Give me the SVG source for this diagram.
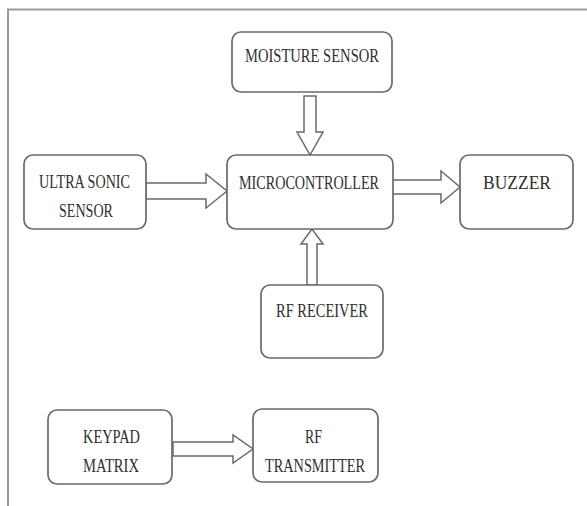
<svg xmlns="http://www.w3.org/2000/svg" width="587" height="506" viewBox="0 0 587 506">
<style>
.box{fill:#fff;stroke:#6a6a6a;stroke-width:1.7}
.arr{fill:#fff;stroke:#6a6a6a;stroke-width:1.5;stroke-linejoin:miter}
.t{font-family:"Liberation Serif","Times New Roman",serif;font-size:19px;fill:#2e2e2e}
.frame{fill:none;stroke:#9a9a9a;stroke-width:2}
</style>
<rect width="587" height="506" fill="#fff"/>
<path class="frame" d="M8,506 V9.5 H587"/>
<g id="connectors">
<polygon class="arr" points="304,96 316,96 316,132 323,132 310,155 297,132 304,132"/>
<polygon class="arr" points="146,183 206,183 206,174 227,191 206,208 206,199 146,199"/>
<polygon class="arr" points="391,180 441,180 441,171 460,187 441,203 441,194 391,194"/>
<polygon class="arr" points="307,285 307,244 301,244 312,229 323,244 317,244 317,285"/>
<polygon class="arr" points="173,442 233,442 233,435 253,449 233,463 233,456 173,456"/>
</g>
<g id="moisture">
<rect class="box" x="232" y="32" width="160" height="60" rx="9"/>
<text class="t" x="245" y="62" textLength="134" lengthAdjust="spacingAndGlyphs">MOISTURE SENSOR</text>
</g>
<g id="ultrasonic">
<rect class="box" x="24" y="155" width="122" height="74" rx="9"/>
<text class="t" x="39" y="188" textLength="91" lengthAdjust="spacingAndGlyphs">ULTRA SONIC</text>
<text class="t" x="59" y="217" textLength="54" lengthAdjust="spacingAndGlyphs">SENSOR</text>
</g>
<g id="microcontroller">
<rect class="box" x="227" y="155" width="166" height="74" rx="9"/>
<text class="t" x="239" y="189" textLength="140" lengthAdjust="spacingAndGlyphs">MICROCONTROLLER</text>
</g>
<g id="buzzer">
<rect class="box" x="460" y="155" width="113" height="74" rx="9"/>
<text class="t" x="483" y="189" textLength="68" lengthAdjust="spacingAndGlyphs">BUZZER</text>
</g>
<g id="rfreceiver">
<rect class="box" x="261" y="285" width="122" height="73" rx="9"/>
<text class="t" x="276" y="317" textLength="92" lengthAdjust="spacingAndGlyphs">RF RECEIVER</text>
</g>
<g id="keypad">
<rect class="box" x="48" y="410" width="124" height="74" rx="9"/>
<text class="t" x="83" y="443" textLength="57" lengthAdjust="spacingAndGlyphs">KEYPAD</text>
<text class="t" x="83" y="472" textLength="56" lengthAdjust="spacingAndGlyphs">MATRIX</text>
</g>
<g id="rftransmitter">
<rect class="box" x="253" y="409" width="125" height="73" rx="9"/>
<text class="t" x="305" y="443" textLength="17" lengthAdjust="spacingAndGlyphs">RF</text>
<text class="t" x="265" y="472" textLength="100" lengthAdjust="spacingAndGlyphs">TRANSMITTER</text>
</g>
</svg>
